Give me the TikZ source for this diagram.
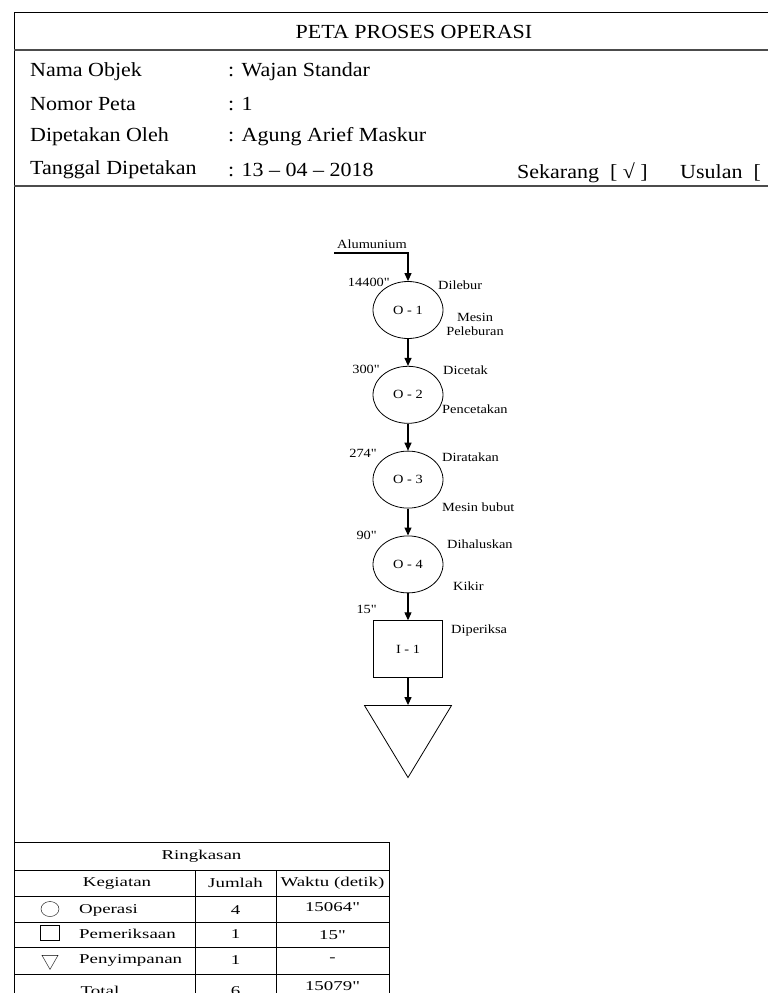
\documentclass[tikz,border=0pt]{standalone}
\usepackage{fontspec}
\setmainfont{Liberation Serif}
\newfontfamily\headfont[FakeStretch=1.1]{Liberation Serif}
\newfontfamily\chartfont[FakeStretch=1.15]{Liberation Serif}
\newfontfamily\tablefont[FakeStretch=1.4]{Liberation Serif}
\usetikzlibrary{arrows.meta, positioning, shapes.geometric}

\begin{document}
\begin{tikzpicture}[
        x=1pt, y=-1pt,
        >={Triangle[length=8pt, width=7pt]},
        node distance=27pt,
        head/.style={font=\headfont\fontsize{20}{24}\selectfont, inner sep=0pt, anchor=west},
        opr/.style={
                draw, ellipse, line width=0.8pt,
                minimum width=70pt, minimum height=57pt, inner sep=0pt,
                font=\chartfont\fontsize{12.5}{14}\selectfont
            },
        insp/.style={
                draw, rectangle, line width=0.8pt,
                minimum width=69pt, minimum height=57pt, inner sep=0pt,
                font=\chartfont\fontsize{12.5}{14}\selectfont
            },
        store/.style={
                draw, isosceles triangle, isosceles triangle stretches,
                shape border rotate=-90, line width=0.8pt,
                minimum width=87pt, minimum height=72pt, inner sep=0pt
            },
        note/.style={font=\chartfont\fontsize{12.5}{14}\selectfont, inner sep=0pt},
        tcell/.style={font=\tablefont\fontsize{13.5}{16}\selectfont, inner sep=0pt},
        arr/.style={->, line width=1.1pt},
        frame/.style={draw=black!70, line width=1.3pt},
        grid/.style={draw, line width=0.7pt},
    ]

    \useasboundingbox (0,0) rectangle (768,993);
    \clip (0,0) rectangle (768,993);

    % header frame
    \draw[line width=0.9pt] (780,12) -- (14,12) -- (14,1000);
    \draw[frame] (14,50) -- (780,50);
    \draw[frame] (14,186) -- (780,186);

    \node[head, anchor=center] (title) at (414,32) {PETA PROSES OPERASI};
    \node[head] (nama) at (30,72) {Nama Objek};
    \node[head] (nomor) at (30,104) {Nomor Peta};
    \node[head] (oleh) at (30,137) {Dipetakan Oleh};
    \node[head] (tgl) at (30,170) {Tanggal Dipetakan};
    \node[head] (vnama) at (228,72) {: Wajan Standar};
    \node[head] (vnomor) at (228,104) {: 1};
    \node[head] (voleh) at (228,137) {: Agung Arief Maskur};
    \node[head] (vtgl) at (228,170) {: 13 – 04 – 2018};
    \node[head] (skr) at (517,173) {Sekarang~~[~√~]};
    \node[head] (usl) at (680,173) {Usulan~~[};

    % process chart
    \coordinate (src) at (334,253);
    \node[note, anchor=south west] (alu) at ([xshift=3pt, yshift=4pt]src) {Alumunium};

    \node[opr] (o1) at (408,310) {O - 1};
    \node[opr, below=of o1] (o2) {O - 2};
    \node[opr, below=of o2] (o3) {O - 3};
    \node[opr, below=of o3] (o4) {O - 4};
    \node[insp, below=of o4] (i1) {I - 1};
    \node[store, below=of i1] (s1) {};

    \draw[arr] (src) -| (o1);
    \draw[arr] (o1) -- (o2);
    \draw[arr] (o2) -- (o3);
    \draw[arr] (o3) -- (o4);
    \draw[arr] (o4) -- (i1);
    \draw[arr] (i1) -- (s1);

    \node[note, anchor=base east] (t1) at ([xshift=-18pt, yshift=-5pt]o1.north) {14400"};
    \node[note, anchor=base east] (t2) at ([xshift=-28pt, yshift=-8pt]o2.north) {300"};
    \node[note, anchor=base east] (t3) at ([xshift=-31pt, yshift=-7pt]o3.north) {274"};
    \node[note, anchor=base east] (t4) at ([xshift=-31pt, yshift=-4pt]o4.north) {90"};
    \node[note, anchor=base east] (t5) at ([xshift=-31pt, yshift=7pt]i1.north) {15"};

    \node[note, anchor=west] (a1) at ([xshift=30pt, yshift=-4pt]o1.north) {Dilebur};
    \node[note, anchor=west] (a2) at ([xshift=35pt, yshift=-4pt]o2.north) {Dicetak};
    \node[note, anchor=west] (a3) at ([xshift=34pt, yshift=-7pt]o3.north) {Diratakan};
    \node[note, anchor=west] (a4) at ([xshift=39pt, yshift=-8.5pt]o4.north) {Dihaluskan};
    \node[note, anchor=west] (a5) at ([xshift=43pt, yshift=-10.5pt]i1.north) {Diperiksa};

    \node[note, align=center] (m1) at ([xshift=67pt, yshift=-14pt]o1.center) {Mesin\\Peleburan};
    \node[note, anchor=west] (m2) at ([xshift=34pt, yshift=-14.5pt]o2.center) {Pencetakan};
    \node[note, anchor=west] (m3) at ([xshift=34pt, yshift=-28pt]o3.center) {Mesin bubut};
    \node[note, anchor=west] (m4) at ([xshift=45pt, yshift=-21.5pt]o4.center) {Kikir};

    % summary table
    \draw[grid] (14,842) -- (389,842) -- (389,1000);
    \draw[grid] (14,870) -- (389,870);
    \draw[grid] (14,896) -- (389,896);
    \draw[grid] (14,922) -- (389,922);
    \draw[grid] (14,947) -- (389,947);
    \draw[grid] (14,974) -- (389,974);
    \draw[grid] (195,870) -- (195,1000);
    \draw[grid] (276,870) -- (276,1000);

    \node[tcell] (ring) at (201.5,856) {Ringkasan};
    \node[tcell] (keg) at (117,883) {Kegiatan};
    \node[tcell] (jml) at (235.5,883) {Jumlah};
    \node[tcell] (wkt) at (332.5,883) {Waktu (detik)};

    \node[draw, ellipse, minimum width=18pt, minimum height=15pt, inner sep=0pt] (symo) at (50,909) {};
    \node[draw, rectangle, minimum width=19pt, minimum height=15pt, inner sep=0pt] (symi) at (50,933) {};
    \node[draw, isosceles triangle, isosceles triangle stretches, shape border rotate=-90,
        minimum width=16pt, minimum height=14pt, inner sep=0pt] (syms) at (50,960) {};

    \node[tcell, anchor=west] (lopr) at (79,910) {Operasi};
    \node[tcell, anchor=west] (linsp) at (79,934) {Pemeriksaan};
    \node[tcell, anchor=west] (lstore) at (79,960) {Penyimpanan};
    \node[tcell] (ltot) at (100,991) {Total};

    \node[tcell] (nopr) at (235.5,910) {4};
    \node[tcell] (ninsp) at (235.5,934) {1};
    \node[tcell] (nstore) at (235.5,960) {1};
    \node[tcell] (ntot) at (235.5,991) {6};

    \node[tcell] (wopr) at (332.5,907) {15064"};
    \node[tcell] (winsp) at (332.5,935) {15"};
    \node[tcell] (wstore) at (332.5,960) {-};
    \node[tcell] (wtot) at (332.5,986) {15079"};
\end{tikzpicture}
\end{document}
